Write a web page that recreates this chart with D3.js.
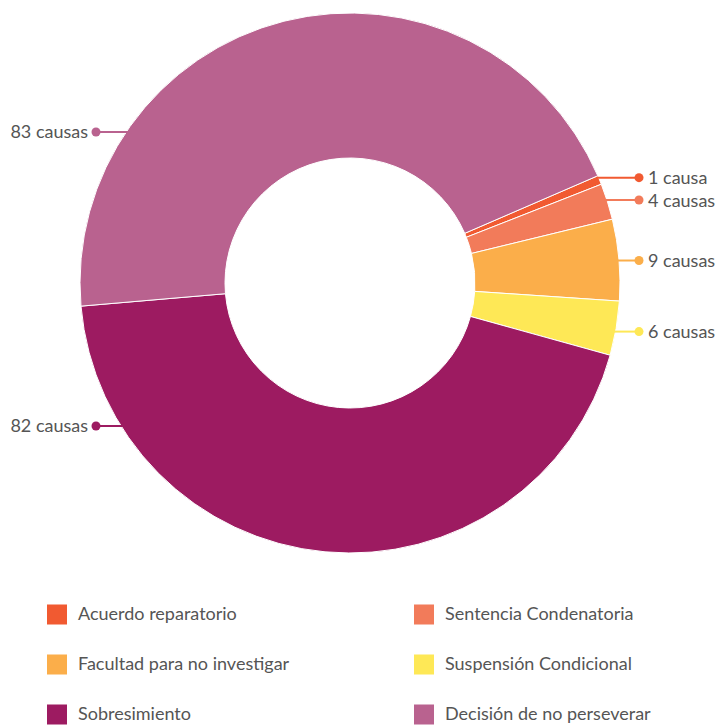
<!DOCTYPE html>
<html>
<head>
<meta charset="utf-8">
<script src="https://cdn.jsdelivr.net/npm/d3@7/dist/d3.min.js"></script>
<style>
  html, body { margin: 0; padding: 0; background: #fff; }
  svg { display: block; font-family: Lato, "Open Sans", sans-serif; }
</style>
</head>
<body>
<svg id="chart" width="721" height="726"></svg>
<script>
const categories = ["Acuerdo reparatorio", "Sentencia Condenatoria", "Facultad para no investigar",
                    "Suspensión Condicional", "Sobresimiento", "Decisión de no perseverar"];
const values = [1, 4, 9, 6, 82, 83];
const labels = ["1 causa", "4 causas", "9 causas", "6 causas", "82 causas", "83 causas"];
const colors = ["#F15A31", "#F27B5A", "#FBAE4A", "#FEE856", "#9D1B61", "#B9628F"];

const W = 721, H = 726;
const cx = 350, cy = 283, rOuter = 270, rInner = 125;
const startDeg = 66.6;
const svg = d3.select("#chart");
const data = categories.map((c, i) => ({ name: c, value: values[i], label: labels[i], color: colors[i] }));

const pie = d3.pie().sort(null).value(d => d.value)
  .startAngle(startDeg * Math.PI / 180)
  .endAngle((startDeg + 360) * Math.PI / 180);
const arcs = pie(data);
const arc = d3.arc().innerRadius(rInner).outerRadius(rOuter);

const g = svg.append("g").attr("transform", `translate(${cx},${cy})`);
g.selectAll("path.slice").data(arcs).enter().append("path")
  .attr("class", "slice")
  .attr("d", arc)
  .attr("fill", d => d.data.color)
  .attr("stroke", "#fff")
  .attr("stroke-width", 1)
  .attr("stroke-linejoin", "round");

// data labels with connectors
const labelR = 280, labelShift = 1.5, topLimit = -151, botLimit = 143;
const dotRight = 289, dotLeft = -254;
arcs.forEach(a => {
  const mid = (a.startAngle + a.endAngle) / 2;
  const right = Math.sin(mid) > 0;
  let y = -labelR * Math.cos(mid) + labelShift;
  y = Math.max(topLimit, Math.min(botLimit, y));
  const edgeX = Math.sqrt(rOuter * rOuter - y * y);
  const dx = right ? dotRight : dotLeft;
  const x0 = right ? edgeX - 2 : -edgeX + 2;
  g.append("line")
    .attr("x1", x0).attr("y1", y).attr("x2", dx).attr("y2", y)
    .attr("stroke", a.data.color).attr("stroke-width", 2);
  g.append("circle").attr("cx", dx).attr("cy", y).attr("r", 4.5).attr("fill", a.data.color);
  g.append("text")
    .attr("x", right ? dx + 9 : dx - 8)
    .attr("y", y)
    .attr("dy", "0.36em")
    .attr("text-anchor", right ? "start" : "end")
    .attr("fill", "#555")
    .style("font-size", "18px")
    .text(a.data.label);
});

// legend
const colX = [47, 414];
const rowY0 = 614, rowStep = 50;
const lg = svg.append("g");
data.forEach((d, i) => {
  const x = colX[i % 2];
  const y = rowY0 + Math.floor(i / 2) * rowStep;
  lg.append("rect").attr("x", x).attr("y", y - 9.5).attr("width", 20).attr("height", 20).attr("fill", d.color);
  lg.append("text").attr("x", x + 31).attr("y", y).attr("dy", "0.36em")
    .attr("fill", "#555").style("font-size", "18px").text(d.name);
});
</script>
</body>
</html>
